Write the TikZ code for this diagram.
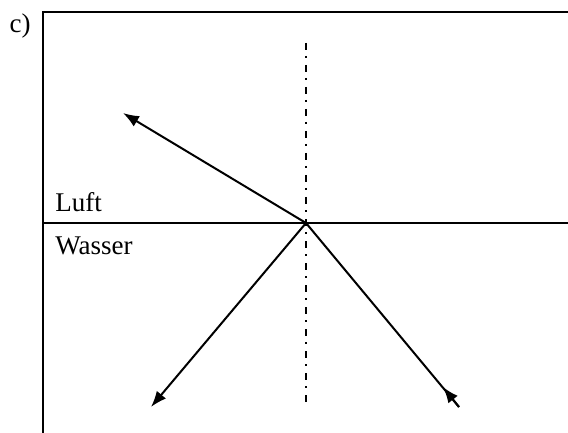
\documentclass[tikz,border=0pt]{standalone}
\usepackage{fontspec}
\setmainfont{Liberation Serif}
\usepackage{tikz}
\usetikzlibrary{arrows.meta}

\begin{document}
\begin{tikzpicture}[
    x=0.5pt, y=-0.5pt,
    ray/.style={line width=1pt},
    arrow/.style={-{Latex[length=8pt,width=6pt]}, line width=1pt},
    normal/.style={line width=1pt, dash pattern=on 3.5pt off 3pt on 1pt off 3.5pt},
    lbl/.style={font=\fontsize{13.5}{16}\selectfont, inner sep=0pt}
]
    \useasboundingbox (0,0) rectangle (568,433);
    % frame
    \coordinate (tl) at (43,12);
    \coordinate (tr) at (568,12);
    \coordinate (bl) at (43,433);
    \draw[line width=1pt] (tr) -- (tl) -- (bl);
    \node[lbl, anchor=base] (part) at (20,33) {c)};

    % surface and normal
    \coordinate (sl) at (43,223);
    \coordinate (sr) at (568,223);
    \coordinate (O)  at (306,223);
    \coordinate (nt) at (306,43);
    \coordinate (nb) at (306,405);
    \draw[ray] (sl) -- (sr);
    \draw[normal] (nt) -- (nb);
    \node[lbl, anchor=base west] (luft)   at (55,212) {Luft};
    \node[lbl, anchor=base west] (wasser) at (55,254) {Wasser};

    % rays
    \coordinate (refl) at (123,113);
    \coordinate (refr) at (151,407);
    \coordinate (inc)  at (459,407);
    \coordinate (incm) at (443,387);
    \draw[arrow] (O) -- (refl);
    \draw[arrow] (O) -- (refr);
    \draw[ray] (inc) -- (O);
    \draw[arrow] (inc) -- (incm);
\end{tikzpicture}
\end{document}
